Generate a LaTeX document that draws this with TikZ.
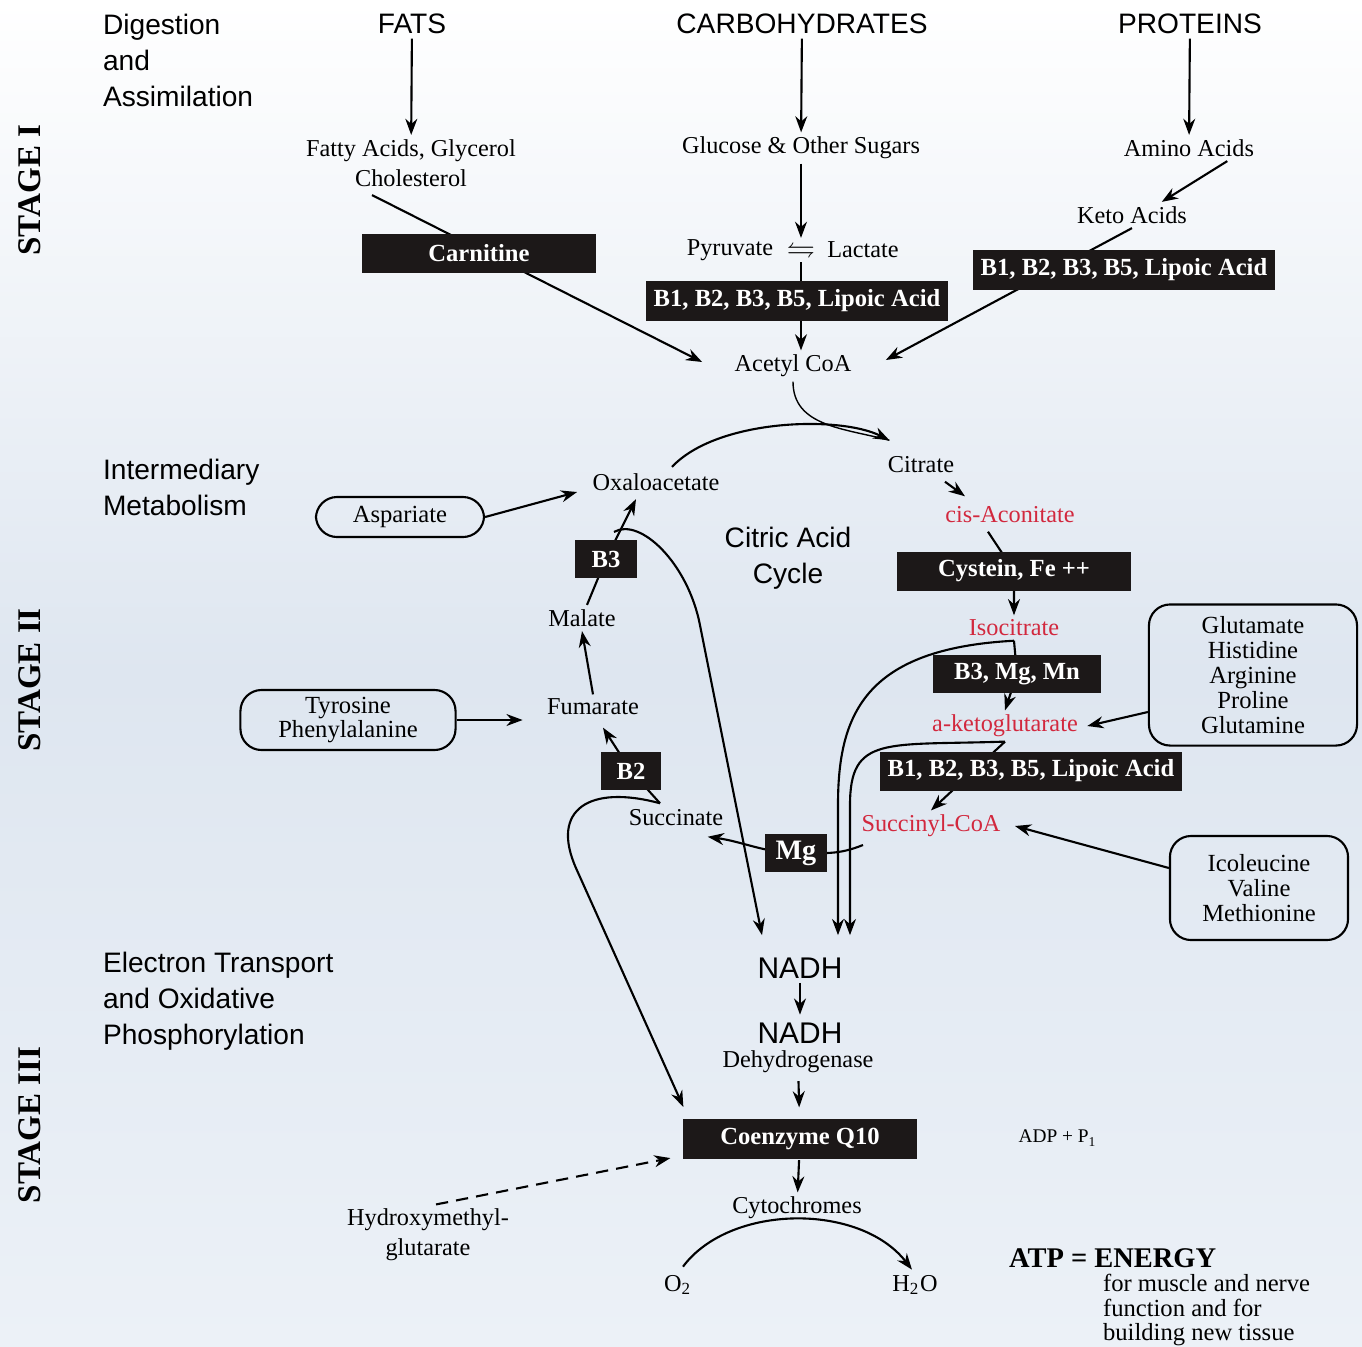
\documentclass[tikz,border=0pt]{standalone}
\usepackage{fontspec}
\setmainfont{Liberation Serif}
\setsansfont{Liberation Sans}
\usepackage{amssymb}
\usepackage{tikz}
\usetikzlibrary{arrows,arrows.meta,positioning,calc,backgrounds}

\definecolor{boxblack}{RGB}{28,24,24}
\definecolor{acidred}{RGB}{210,40,62}
\definecolor{bgmid}{RGB}{222,230,240}
\definecolor{bgbot}{RGB}{236,241,247}

\begin{document}
\begin{tikzpicture}[x=0.01cm, y=-0.01cm, >={Stealth[length=4.6pt,width=3.4pt]}, line width=0.6pt]
  % Styles
  \tikzstyle{stage} = [rotate=90, inner sep=0pt, font=\bfseries\fontsize{9.4}{11}\selectfont]
  \tikzstyle{heading} = [inner sep=1pt, align=center, font=\sffamily\fontsize{8}{10.24}\selectfont]
  \tikzstyle{phase} = [heading, align=left, anchor=west, inner sep=0pt]
  \tikzstyle{chem} = [inner sep=1pt, align=center, font=\fontsize{6.9}{8.5}\selectfont]
  \tikzstyle{acid} = [chem, text=acidred]
  \tikzstyle{cofactor} = [fill=boxblack, text=white, inner sep=0pt, font=\bfseries\fontsize{7}{8}\selectfont]
  \tikzstyle{aminobox} = [draw, rounded corners=6pt, inner sep=0pt, align=center, font=\fontsize{7}{7.1}\selectfont]
  \tikzstyle{flow} = [->, line width=0.6pt]

  \useasboundingbox (0,0) rectangle (1362,1347);

  % Stage labels
  \node [stage] (s1) at (30,190) {STAGE I};
  \node [stage] (s2) at (30,680) {STAGE II};
  \node [stage] (s3) at (30,1125) {STAGE III};

  % Stage I nodes
  \node [phase] (digest) at (102,60) {Digestion\\and\\Assimilation};
  \node [heading] (fats) at (412,24) {FATS};
  \node [heading] (carbs) at (802,24) {CARBOHYDRATES};
  \node [heading] (prot) at (1190,24) {PROTEINS};
  \node [chem] (fatty) at (411,163) {Fatty Acids, Glycerol\\Cholesterol};
  \node [chem] (glucose) at (801,148) {Glucose \& Other Sugars};
  \node [chem] (amino) at (1189,148) {Amino Acids};
  \node [chem] (keto) at (1132,215) {Keto Acids};
  \node [cofactor, minimum width=2.34cm, minimum height=0.39cm] (carn) at (479,253) {Carnitine};
  \node [chem] (pyr) at (730,250) {Pyruvate};
  \node [chem, font=\fontsize{8}{9}\selectfont] (eq) at (801,250) {$\leftrightharpoons$};
  \node [chem] (lac) at (863,250) {Lactate};
  \node [cofactor, minimum width=3.02cm, minimum height=0.40cm] (bpyr) at (797,301) {B1, B2, B3, B5, Lipoic Acid};
  \node [cofactor, minimum width=3.02cm, minimum height=0.40cm] (bkac) at (1124,270) {B1, B2, B3, B5, Lipoic Acid};
  \node [chem] (acetyl) at (793,366) {Acetyl CoA};

  % Stage II nodes
  \node [phase] (inter) at (102,487) {Intermediary\\Metabolism};
  \node [chem] (citrate) at (921,465) {Citrate};
  \node [chem] (oxalo) at (656,482) {Oxaloacetate};
  \node [acid] (cisacon) at (1010,515) {cis-Aconitate};
  \node [heading] (cycle) at (788,558) {Citric Acid\\Cycle};
  \node [aminobox, minimum width=1.68cm, minimum height=0.40cm] (asp) at (400,517) {Aspariate};
  \node [cofactor, minimum width=0.61cm, minimum height=0.38cm] (b3) at (606,559) {B3};
  \node [cofactor, minimum width=2.33cm, minimum height=0.39cm] (cyst) at (1014,571) {Cystein, Fe ++};
  \node [chem] (malate) at (582,618) {Malate};
  \node [acid] (isocit) at (1014,628) {Isocitrate};
  \node [cofactor, minimum width=1.68cm, minimum height=0.38cm] (bmgmn) at (1017,674) {B3, Mg, Mn};
  \node [aminobox, minimum width=2.08cm, minimum height=1.41cm] (glu) at (1253,675) {Glutamate\\Histidine\\Arginine\\Proline\\Glutamine};
  \node [aminobox, minimum width=2.15cm, minimum height=0.60cm] (tyr) at (348,720) {Tyrosine\\Phenylalanine};
  \node [chem] (fumarate) at (593,707) {Fumarate};
  \node [acid] (aketo) at (1005,726) {a-ketoglutarate};
  \node [cofactor, minimum width=0.60cm, minimum height=0.38cm] (b2) at (631,771) {B2};
  \node [cofactor, minimum width=3.02cm, minimum height=0.39cm] (bglut) at (1031,771) {B1, B2, B3, B5, Lipoic Acid};
  \node [chem] (succinate) at (676,818) {Succinate};
  \node [acid] (succoa) at (931,826) {Succinyl-CoA};
  \node [cofactor, minimum width=0.61cm, minimum height=0.38cm, font=\bfseries\fontsize{8}{9}\selectfont] (mg) at (796,853) {Mg};
  \node [aminobox, minimum width=1.78cm, minimum height=1.04cm] (ile) at (1259,888) {Icoleucine\\Valine\\Methionine};

  % Stage III nodes
  \node [phase] (electron) at (102,1001) {Electron Transport\\and Oxidative\\Phosphorylation};
  \node [heading, font=\sffamily\fontsize{8.5}{10}\selectfont] (nadh) at (800,968) {NADH};
  \node [heading, inner sep=0pt, font=\sffamily\fontsize{8.5}{10}\selectfont] (nadhdh) at (800,1033) {NADH};
  \node [chem, inner sep=0pt] (dehyd) at (798,1062) {Dehydrogenase};
  \node [cofactor, minimum width=2.33cm, minimum height=0.40cm] (coq) at (800,1139) {Coenzyme Q10};
  \node [chem, font=\fontsize{5.5}{6}\selectfont] (adp) at (1058,1138) {ADP + P\textsubscript{1}};
  \node [chem] (cyto) at (797,1208) {Cytochromes};
  \node [chem] (hmg) at (428,1235) {Hydroxymethyl-\\glutarate};
  \node [chem] (o2) at (678,1285) {O\textsubscript{2}};
  \node [chem] (h2o) at (915,1285) {H\textsubscript{2}O};
  \node [anchor=west, inner sep=0pt, font=\bfseries\fontsize{8.1}{9}\selectfont] (atp) at (1008,1258) {ATP = ENERGY};
  \node [chem, anchor=west, align=left, inner sep=0pt, font=\fontsize{7}{7.1}\selectfont] (energy) at (1102,1310) {for muscle and nerve\\function and for\\building new tissue};

  \begin{scope}[on background layer]
    \shade [top color=white, bottom color=bgbot, middle color=bgmid] (0,0) rectangle (1362,1347);

    % Paths / Edges: stage I
    \draw [flow] (fats) -- (fatty);
    \draw [flow] (carbs) -- (glucose);
    \draw [flow] (prot) -- (amino);
    \draw [flow] (glucose) -- (eq);
    \draw [flow] (eq.south) -- (eq.south |- acetyl.north);
    \draw [flow] ($(amino.south)!0.55!(amino.south east)$) -- ($(keto.north)!0.5!(keto.north east)$);
    \draw [flow] ($(fatty.south)+(-39,4)$) -- ($(acetyl.west)+(-28,-4)$);
    \draw [flow] (keto.south) -- ($(acetyl.east)+(30,-6)$);

    % Paths / Edges: citric acid cycle
    \draw (acetyl.south) .. controls +(0,45) and +(-45,-12) .. ($(citrate.north west)+(6,-12)$);
    \draw [flow] ($(oxalo.north)+(16,-2)$) .. controls +(45,-48) and +(-50,-25) .. ($(citrate.north west)+(6,-12)$);
    \draw [flow] ($(citrate.south)+(24,4)$) -- ($(cisacon.north)+(-45,-6)$);
    \draw [flow] ($(cisacon.south)+(-22,4)$) -- (cyst.center) -- (isocit.north);
    \draw [flow] (isocit.south) -- (bmgmn.center) -- (aketo.north);
    \draw [flow] (aketo.south) -- (succoa.north);
    \draw [flow] ($(glu.west)+(0,37)$) -- ($(aketo.east)+(5,0)$);
    \draw [flow] ($(ile.west)+(0,-20)$) -- ($(succoa.east)+(10,0)$);
    \draw [flow] ($(succoa.west)+(6,19)$) .. controls +(-25,10) and +(30,0) .. (mg.center) .. controls +(-30,0) and +(35,5) .. ($(succinate.south east)+(-20,6)$);
    \draw [flow] ($(succinate.north)+(-16,-2)$) -- (b2.center) -- ($(fumarate.south)+(10,8)$);
    \draw [flow] (fumarate.north) -- (malate.south);
    \draw [flow] ($(malate.north)+(5,0)$) -- (b3.center) -- ($(oxalo.south)+(-20,4)$);
    \draw [flow] (asp.east) -- ($(oxalo.west)+(-11,10)$);
    \draw [flow] (tyr.east) -- ($(tyr.east -| fumarate.west)+(-20,0)$);

    % Paths / Edges: to NADH and Q10
    \draw [flow] ($(b3.north)+(8,-7)$) .. controls +(26,-15) and +(-12,-62) .. ($(nadh.north)+(-100,-328)$) -- ($(nadh.north)+(-38,-18)$);
    \draw [flow] (isocit.south) .. controls +(-150,8) and +(0,-90) .. ($(nadh.north)+(38,-148)$) -- ($(nadh.north)+(38,-18)$);
    \draw [flow] (aketo.south) .. controls +(-120,4) and +(0,-70) .. ($(nadh.north)+(50,-148)$) -- ($(nadh.north)+(50,-18)$);
    \draw [flow] ($(succinate.north)+(-16,-2)$) .. controls +(-70,-19) and +(-27,-60) .. ($(coq.north west)+(-106,-249)$) -- ($(coq.north west)+(1,-11)$);

    % Paths / Edges: stage III
    \draw [flow, shorten >=2pt] (nadh) -- (nadhdh);
    \draw [flow, shorten <=2pt, shorten >=3pt] (dehyd) -- (coq);
    \draw [flow] (coq) -- (cyto);
    \draw [flow] ($(o2.north)+(5,-4)$) .. controls +(47,-63) and +(-52,-67) .. ($(h2o.north)+(-3,-1)$);
    \draw [flow, dash pattern=on 3.5pt off 2.3pt] ($(hmg.north)+(8,0)$) -- ($(coq.south west)+(-12,-2)$);
  \end{scope}
\end{tikzpicture}
\end{document}
